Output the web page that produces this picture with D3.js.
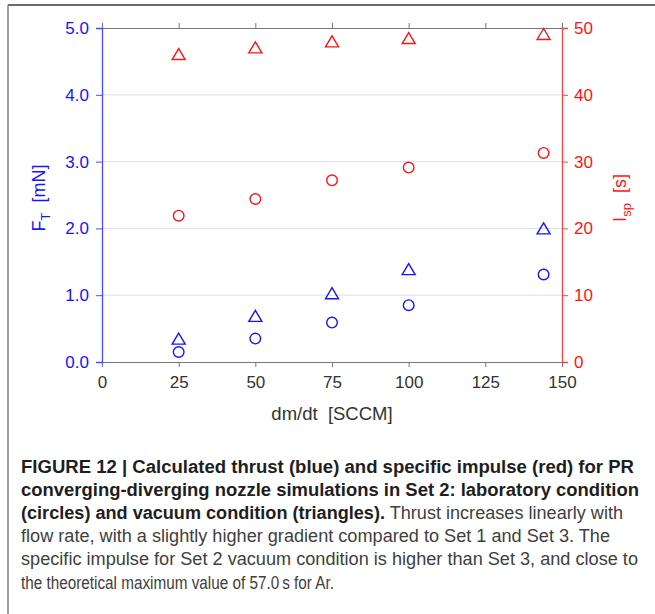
<!DOCTYPE html>
<html>
<head>
<meta charset="utf-8">
<script src="https://cdn.jsdelivr.net/npm/d3@7"></script>
<style>
  html, body { margin: 0; padding: 0; background: #fff; }
  svg { display: block; }
</style>
</head>
<body>
<svg id="chart" width="655" height="614"></svg>
<script>
// ---- data ----
const flowRate = [25, 50, 75, 100, 144];           // dm/dt [SCCM]
const thrustLab = [0.15, 0.35, 0.59, 0.85, 1.31];  // F_T [mN], circles
const thrustVac = [0.35, 0.69, 1.03, 1.39, 2.00];  // F_T [mN], triangles
const ispLab = [21.9, 24.4, 27.2, 29.1, 31.3];     // I_sp [s], circles
const ispVac = [46.1, 47.1, 48.0, 48.5, 49.1];     // I_sp [s], triangles
const xTicks = [0, 25, 50, 75, 100, 125, 150];
const leftTicks = [0, 1, 2, 3, 4, 5];
const rightTicks = [0, 10, 20, 30, 40, 50];
const captionLines = [
  [["b", "FIGURE 12 | Calculated thrust (blue) and specific impulse (red) for PR"]],
  [["b", "converging-diverging nozzle simulations in Set 2: laboratory condition"]],
  [["b", "(circles) and vacuum condition (triangles)."], ["r", " Thrust increases linearly with"]],
  [["r", "flow rate, with a slightly higher gradient compared to Set 1 and Set 3. The"]],
  [["r", "specific impulse for Set 2 vacuum condition is higher than Set 3, and close to"]],
  [["r", "the theoretical maximum value of 57.0\u2009s for Ar."]]
];
const captionEnds = [634, 639, 623, 610, 638, 334];

const BLUE = "#1414ff", RED = "#ff1414";
const svg = d3.select("#chart");
const FONT = "'Liberation Sans', Arial, Helvetica, sans-serif";

// frame
svg.append("line").attr("x1", 8).attr("x2", 655).attr("y1", 5).attr("y2", 5)
  .attr("stroke", "#3a3a3a").attr("stroke-width", 1.6);
svg.append("line").attr("x1", 8).attr("x2", 8).attr("y1", 5).attr("y2", 614)
  .attr("stroke", "#8a8a8a").attr("stroke-width", 1.6);

const x = d3.scaleLinear().domain([0, 150]).range([102, 562]);
const yL = d3.scaleLinear().domain([0, 5]).range([362, 28]);
const yR = d3.scaleLinear().domain([0, 50]).range([362, 28]);

// gridlines
svg.append("g").selectAll("line").data(leftTicks.slice(1, -1)).join("line")
  .attr("x1", x(0)).attr("x2", x(150))
  .attr("y1", d => yL(d)).attr("y2", d => yL(d))
  .attr("stroke", "#dcdcff").attr("stroke-width", 1);

// bottom axis
const gx = svg.append("g").attr("transform", `translate(0,${yL(0)})`)
  .call(d3.axisBottom(x).tickValues(xTicks).tickFormat(d3.format("d")).tickSizeOuter(0).tickSize(5).tickPadding(9));
gx.select(".domain").attr("stroke", "#777").attr("stroke-width", 1.2);
gx.selectAll(".tick line").attr("stroke", "#777");
gx.selectAll(".tick text").attr("fill", "#333").style("font", `17px ${FONT}`);

// top axis
const gt = svg.append("g").attr("transform", `translate(0,${yL(5)})`)
  .call(d3.axisTop(x).tickValues(xTicks).tickFormat("").tickSizeOuter(0).tickSize(5));
gt.select(".domain").attr("stroke", "#777").attr("stroke-width", 1.2);
gt.selectAll(".tick line").attr("stroke", "#777");

// left axis
const gl = svg.append("g").attr("transform", `translate(${x(0)},0)`)
  .call(d3.axisLeft(yL).tickValues(leftTicks).tickFormat(d3.format(".1f")).tickSizeOuter(0).tickSize(6).tickPadding(7));
gl.select(".domain").attr("stroke", "#4a4aff").attr("stroke-width", 1.3);
gl.selectAll(".tick line").attr("stroke", "#4a4aff");
gl.selectAll(".tick text").attr("fill", BLUE).style("font", `17px ${FONT}`);

// right axis
const gr = svg.append("g").attr("transform", `translate(${x(150)},0)`)
  .call(d3.axisRight(yR).tickValues(rightTicks).tickFormat(d3.format("d")).tickSizeOuter(0).tickSize(6).tickPadding(6));
gr.select(".domain").attr("stroke", "#ff4040").attr("stroke-width", 1.3);
gr.selectAll(".tick line").attr("stroke", "#ff4040");
gr.selectAll(".tick text").attr("fill", RED).style("font", `17px ${FONT}`);

// axis titles
svg.append("text").attr("x", 332).attr("y", 420).attr("text-anchor", "middle")
  .attr("fill", "#333").style("font", `18.5px ${FONT}`).style("white-space", "pre")
  .text("dm/dt  [SCCM]");

const lt = svg.append("text").attr("transform", "translate(45,198) rotate(-90)")
  .attr("text-anchor", "middle").attr("fill", BLUE).style("font", `18px ${FONT}`).style("white-space", "pre");
lt.append("tspan").text("F");
lt.append("tspan").attr("dy", 5).style("font-size", "13px").text("T");
lt.append("tspan").attr("dy", -5).text("  [mN]");

const rt = svg.append("text").attr("transform", "translate(626,198) rotate(-90)")
  .attr("text-anchor", "middle").attr("fill", RED).style("font", `18px ${FONT}`).style("white-space", "pre");
rt.append("tspan").text("I");
rt.append("tspan").attr("dy", 5).style("font-size", "13px").text("sp");
rt.append("tspan").attr("dy", -5).text("  [s]");

// markers
function tri(cx, cy) {
  const w = 6.5, h = 5.5;
  return `M${cx},${cy - h}L${cx + w},${cy + h}L${cx - w},${cy + h}Z`;
}
const marks = svg.append("g").attr("fill", "none").attr("stroke-width", 1.4);
marks.selectAll(".rc").data(flowRate).join("circle")
  .attr("cx", d => x(d)).attr("cy", (d, i) => yR(ispLab[i])).attr("r", 5.3).attr("stroke", RED);
marks.selectAll(".rt").data(flowRate).join("path").attr("class", "rt")
  .attr("d", (d, i) => tri(x(d), yR(ispVac[i]))).attr("stroke", RED);
marks.selectAll(".bc").data(flowRate).join("circle").attr("class", "bc")
  .attr("cx", d => x(d)).attr("cy", (d, i) => yL(thrustLab[i])).attr("r", 5.3).attr("stroke", BLUE);
marks.selectAll(".bt").data(flowRate).join("path").attr("class", "bt")
  .attr("d", (d, i) => tri(x(d), yL(thrustVac[i]))).attr("stroke", BLUE);

// caption
const cap = svg.append("g");
captionLines.forEach((parts, i) => {
  const t = cap.append("text").attr("x", 21).attr("y", 473 + i * 23.1)
    .style("font", `17.5px ${FONT}`).style("white-space", "pre");
  parts.forEach(([k, s]) => {
    t.append("tspan").attr("font-weight", k === "b" ? "bold" : "normal")
      .attr("fill", k === "b" ? "#1e1e1e" : "#404040").text(s);
  });
  const target = captionEnds[i] - 21;
  t.attr("textLength", target).attr("lengthAdjust", "spacingAndGlyphs");
});
</script>
</body>
</html>
